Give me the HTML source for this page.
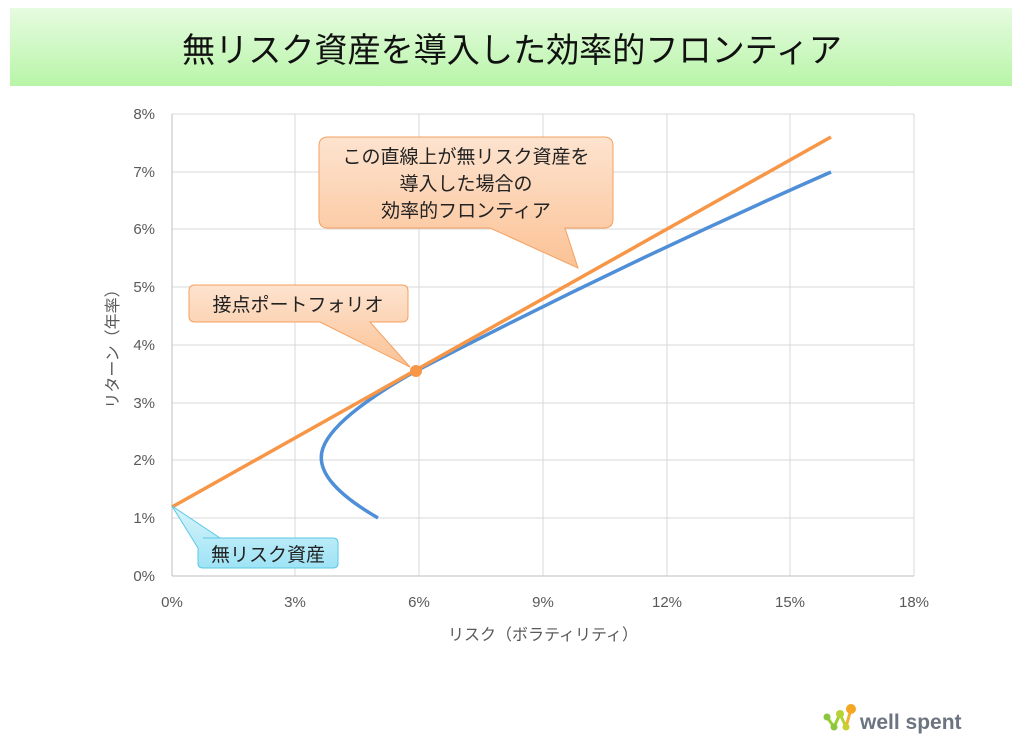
<!DOCTYPE html>
<html><head><meta charset="utf-8"><style>
body{margin:0;background:#fff;width:1024px;height:740px;overflow:hidden;font-family:"Liberation Sans","Noto Sans CJK JP",sans-serif}
</style></head><body>
<svg width="1024" height="740" xmlns="http://www.w3.org/2000/svg" font-family="Liberation Sans, Noto Sans CJK JP, sans-serif">
<defs>
<linearGradient id="g" x1="0" y1="0" x2="0" y2="1"><stop offset="0" stop-color="#e6fbe0"/><stop offset="1" stop-color="#b8f5a8"/></linearGradient>
<linearGradient id="o" x1="0" y1="0" x2="0" y2="1"><stop offset="0" stop-color="#fde3cf"/><stop offset="1" stop-color="#fbc295"/></linearGradient>
<linearGradient id="b" x1="0" y1="0" x2="0" y2="1"><stop offset="0" stop-color="#d8f4fb"/><stop offset="1" stop-color="#9ee3f5"/></linearGradient>
</defs>
<rect x="10" y="8" width="1002" height="78" fill="url(#g)"/>
<text x="512" y="62" font-size="34" text-anchor="middle" fill="#111" textLength="660" lengthAdjust="spacingAndGlyphs">無リスク資産を導入した効率的フロンティア</text>
<g stroke="#d9d9d9" stroke-width="1">
<line x1="172" y1="114" x2="914" y2="114"/><line x1="172" y1="172" x2="914" y2="172"/><line x1="172" y1="229" x2="914" y2="229"/><line x1="172" y1="287" x2="914" y2="287"/><line x1="172" y1="345" x2="914" y2="345"/><line x1="172" y1="403" x2="914" y2="403"/><line x1="172" y1="460" x2="914" y2="460"/><line x1="172" y1="518" x2="914" y2="518"/>
<line x1="295" y1="114" x2="295" y2="576"/><line x1="419" y1="114" x2="419" y2="576"/><line x1="543" y1="114" x2="543" y2="576"/><line x1="667" y1="114" x2="667" y2="576"/><line x1="790" y1="114" x2="790" y2="576"/><line x1="914" y1="114" x2="914" y2="576"/>
</g>
<line x1="172" y1="114" x2="172" y2="576" stroke="#bfbfbf"/><line x1="172" y1="576" x2="914" y2="576" stroke="#bfbfbf"/>
<g font-size="15" fill="#595959" text-anchor="end">
<text x="155" y="119">8%</text><text x="155" y="177">7%</text><text x="155" y="234">6%</text><text x="155" y="292">5%</text><text x="155" y="350">4%</text><text x="155" y="408">3%</text><text x="155" y="465">2%</text><text x="155" y="523">1%</text><text x="155" y="581">0%</text>
</g>
<g font-size="15" fill="#595959" text-anchor="middle">
<text x="172" y="607">0%</text><text x="295" y="607">3%</text><text x="419" y="607">6%</text><text x="543" y="607">9%</text><text x="667" y="607">12%</text><text x="790" y="607">15%</text><text x="914" y="607">18%</text>
<text x="543" y="640" font-size="16">リスク（ボラティリティ）</text>
</g>
<text transform="translate(118,345) rotate(-90)" font-size="16" fill="#595959" text-anchor="middle">リターン（年率）</text>
<path d="M378,518 C335,493 315,470 323,448 C332,422 380,391 416,371 Q620,265 831,172" fill="none" stroke="#4f8fd8" stroke-width="3.5"/>
<line x1="172" y1="507" x2="831" y2="137" stroke="#f79646" stroke-width="3.5"/>
<circle cx="416" cy="371" r="6" fill="#f79646"/>
<path d="M328,137 H604 Q613,137 613,146 V219 Q613,228 604,228 H565 L578,268 L490,228 H328 Q319,228 319,219 V146 Q319,137 328,137 Z" fill="url(#o)" stroke="#f4a060"/>
<g font-size="19" fill="#222" text-anchor="middle"><text x="466" y="163">この直線上が無リスク資産を</text><text x="466" y="190">導入した場合の</text><text x="466" y="217">効率的フロンティア</text></g>
<path d="M195,285 H402 Q408,285 408,291 V316 Q408,322 402,322 H370 L410,367 L320,322 H195 Q189,322 189,316 V291 Q189,285 195,285 Z" fill="url(#o)" stroke="#f4a060"/>
<text x="298" y="311" font-size="19" fill="#222" text-anchor="middle">接点ポートフォリオ</text>
<path d="M203,538 H333 Q338,538 338,543 V563 Q338,568 333,568 H203 Q198,568 198,563 V548 L172,506 L220,538 Z" fill="url(#b)" stroke="#5bc8e5"/>
<text x="268" y="561" font-size="19" fill="#222" text-anchor="middle">無リスク資産</text>
<g>
<line x1="827" y1="717" x2="834" y2="727" stroke="#9acd32" stroke-width="3"/><line x1="834" y1="727" x2="840" y2="714" stroke="#9acd32" stroke-width="3"/><line x1="840" y1="714" x2="846" y2="727" stroke="#b5d334" stroke-width="3"/><line x1="846" y1="727" x2="851" y2="709" stroke="#f0b030" stroke-width="3"/>
<circle cx="827" cy="717" r="3.5" fill="#8cc63f"/><circle cx="834" cy="727" r="3.5" fill="#8cc63f"/><circle cx="840" cy="714" r="4" fill="#b5d334"/><circle cx="846" cy="727" r="3.5" fill="#c8d030"/><circle cx="851" cy="709" r="5" fill="#f5a623"/>
<text x="860" y="729" font-size="21" font-weight="bold" fill="#6b7480">well spent</text>
</g>
</svg>
</body></html>
